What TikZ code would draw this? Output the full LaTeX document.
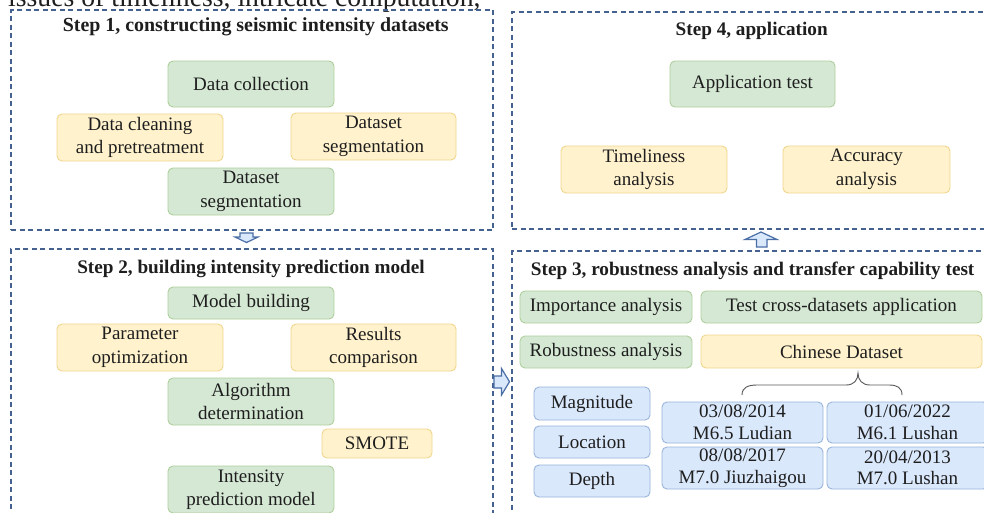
\documentclass[tikz,border=0pt]{standalone}
\usepackage{fontspec}
\setmainfont{Liberation Serif}
\definecolor{gfill}{HTML}{D5E8D4}
\definecolor{gline}{HTML}{AFCF9D}
\definecolor{yfill}{HTML}{FFF2CC}
\definecolor{yline}{HTML}{F0D68E}
\definecolor{bfill}{HTML}{DAE8FC}
\definecolor{bline}{HTML}{98B4DA}
\definecolor{frame}{HTML}{44618F}
\definecolor{arrline}{HTML}{4A6EA6}
\definecolor{txt}{HTML}{1E1E1E}
\tikzset{
  base/.style={rounded corners=5pt, line width=0.9pt, align=center, inner sep=0pt,
    text=txt, font=\fontsize{19}{23.5}\selectfont},
  gbox/.style={base, fill=gfill, draw=gline},
  ybox/.style={base, fill=yfill, draw=yline},
  bbox/.style={base, fill=bfill, draw=bline},
  evbox/.style={base, fill=bfill, draw=bline, font=\fontsize{19}{21.5}\selectfont},
  stepframe/.style={draw=frame, line width=1.3pt, dash pattern=on 5pt off 3.5pt, inner sep=0pt},
  steptitle/.style={anchor=base, text=txt, font=\fontsize{19.2}{23}\selectfont\bfseries, inner sep=0pt},
  blockarrow/.style={draw=arrline, fill=bfill, line width=1.2pt, line join=miter},
}
\begin{document}
\begin{tikzpicture}[x=1pt, y=-1pt]
\useasboundingbox (0,0) rectangle (984,512);
\fill[white] (0,0) rectangle (984,512);
\clip (0,0) rectangle (984,512);

% clipped text from the page above
\node[anchor=base west, inner sep=0pt, text=txt, font=\fontsize{27.7}{30}\selectfont] (toptext) at (8,6) {issues of timeliness, intricate computation,};

% frames
\node[stepframe, minimum width=482pt, minimum height=220pt] (f1) at (252,120) {};
\node[stepframe, minimum width=482pt, minimum height=311pt] (f2) at (252,404.5) {};
\node[stepframe, minimum width=488pt, minimum height=217pt] (f4) at (756,120.5) {};
\node[stepframe, minimum width=488pt, minimum height=309pt] (f3) at (756,405.5) {};

% titles
\node[steptitle, font=\fontsize{19.9}{23}\selectfont\bfseries] (t1) at (255.8,31.5) {Step 1, constructing seismic intensity datasets};
\node[steptitle] (t4) at (751.7,35) {Step 4, application};
\node[steptitle] (t2) at (251,273.3) {Step 2, building intensity prediction model};
\node[steptitle] (t3) at (752.7,275) {Step 3, robustness analysis and transfer capability test};

% step 1
\node[gbox, minimum width=166pt, minimum height=46pt] (dc) at (251,84) {Data collection};
\node[ybox, minimum width=166pt, minimum height=47pt] (dcp) at (140,137.5) {Data cleaning\\and pretreatment};
\node[ybox, minimum width=165pt, minimum height=47pt] (dsy) at (373.5,136.5) {Dataset\\segmentation};
\node[gbox, minimum width=166pt, minimum height=47pt] (dsg) at (251,191.5) {Dataset\\segmentation};

% step 4
\node[gbox, minimum width=165pt, minimum height=46pt] (apt) at (752.5,84) {Application test};
\node[ybox, minimum width=166pt, minimum height=47pt] (tla) at (644,169.5) {Timeliness\\analysis};
\node[ybox, minimum width=167pt, minimum height=47pt] (aca) at (866.5,169.5) {Accuracy\\analysis};

% step 2
\node[gbox, minimum width=166pt, minimum height=32pt] (mb) at (251,303) {Model building};
\node[ybox, minimum width=166pt, minimum height=47pt] (po) at (140,347.5) {Parameter\\optimization};
\node[ybox, minimum width=165pt, minimum height=47pt] (rc) at (373.5,347.5) {Results\\comparison};
\node[gbox, minimum width=166pt, minimum height=47pt] (ad) at (251,401.5) {Algorithm\\determination};
\node[ybox, minimum width=110pt, minimum height=29pt] (sm) at (377,443.5) {SMOTE};
\node[gbox, minimum width=166pt, minimum height=47pt] (ipm) at (251,489.5) {Intensity\\prediction model};

% step 3
\node[gbox, minimum width=172pt, minimum height=32pt] (ia) at (606,307) {Importance analysis};
\node[gbox, minimum width=281pt, minimum height=32pt] (tc) at (841.5,307) {Test cross-datasets application};
\node[gbox, minimum width=172pt, minimum height=32pt] (ra) at (606,352) {Robustness analysis};
\node[ybox, minimum width=281pt, minimum height=33pt] (cd) at (841.5,351.5) {Chinese Dataset};
\node[bbox, minimum width=116pt, minimum height=33pt] (mag) at (592,403.5) {Magnitude};
\node[bbox, minimum width=116pt, minimum height=32pt] (loc) at (592,442) {Location};
\node[bbox, minimum width=116pt, minimum height=32pt] (dep) at (592,481) {Depth};
\node[evbox, minimum width=161pt, minimum height=41pt] (e1) at (742.5,422.5) {03/08/2014\\M6.5 Ludian};
\node[evbox, minimum width=161pt, minimum height=41pt] (e2) at (907.5,422.5) {01/06/2022\\M6.1 Lushan};
\node[evbox, minimum width=161pt, minimum height=42pt] (e3) at (742.5,468) {08/08/2017\\M7.0 Jiuzhaigou};
\node[evbox, minimum width=161pt, minimum height=42pt] (e4) at (907.5,468) {20/04/2013\\M7.0 Lushan};

% brace
\draw[draw=black!65, line width=0.9pt]
  (742,395) .. controls (742,387.5) and (748,385) .. (757,385) -- (846,385)
  .. controls (854,385) and (858,380) .. (858,373)
  .. controls (858,380) and (862,385) .. (870,385) -- (889,385)
  .. controls (897,385) and (902,387.5) .. (902,395);

% block arrows
\draw[blockarrow] (240,233) -- (253,233) -- (253,237) -- (258,237) -- (246.5,242.5) -- (235,237) -- (240,237) -- cycle;
\draw[blockarrow] (756.5,247) -- (767,247) -- (767,239.5) -- (777,239.5) -- (761,232) -- (745,239.5) -- (756.5,239.5) -- cycle;
\draw[blockarrow] (494,376) -- (501.5,376) -- (501.5,368.5) -- (509.5,381.7) -- (501.5,395) -- (501.5,388) -- (494,388) -- cycle;
\end{tikzpicture}
\end{document}
